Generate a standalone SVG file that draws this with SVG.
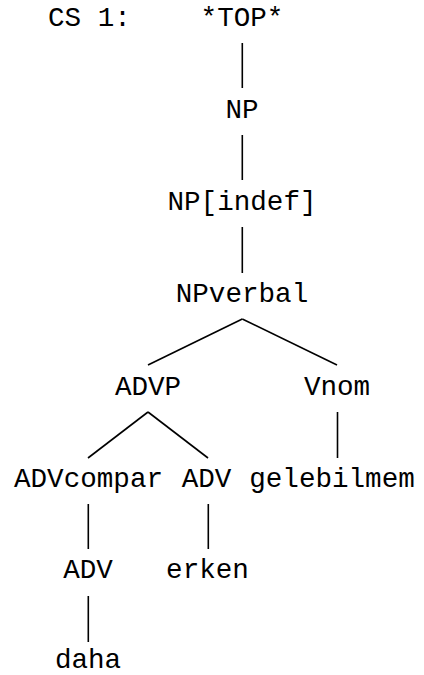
<svg xmlns="http://www.w3.org/2000/svg" width="424" height="675" viewBox="0 0 424 675">
<style>
text{font-family:"Liberation Mono","Courier New",monospace;font-size:27.6px;fill:#000;text-anchor:middle}
.e line{stroke:#000;stroke-width:1.6;stroke-linecap:butt}
</style>
<rect width="424" height="675" fill="#fff"/>
<g id="label"><text x="48" y="26" style="text-anchor:start">CS 1:</text></g>
<g id="n-top"><text x="242" y="26">*TOP*</text></g>
<g id="n-np"><text x="242" y="118">NP</text></g>
<g id="n-npindef"><text x="242" y="210">NP[indef]</text></g>
<g id="n-npverbal"><text x="242" y="302">NPverbal</text></g>
<g id="n-advp"><text x="148" y="395">ADVP</text></g>
<g id="n-vnom"><text x="337" y="395">Vnom</text></g>
<g id="n-advcompar"><text x="88.5" y="487">ADVcompar</text></g>
<g id="n-adv1"><text x="206.5" y="487">ADV</text></g>
<g id="n-gelebilmem"><text x="332" y="487">gelebilmem</text></g>
<g id="n-adv2"><text x="88" y="578">ADV</text></g>
<g id="n-erken"><text x="207.5" y="578">erken</text></g>
<g id="n-daha"><text x="88" y="668">daha</text></g>
<g id="edges" class="e">
<line x1="242.3" y1="43" x2="242.3" y2="88"/>
<line x1="242.3" y1="135" x2="242.3" y2="180"/>
<line x1="242.3" y1="227" x2="242.3" y2="273"/>
<line x1="242.3" y1="319" x2="148" y2="365"/>
<line x1="242.3" y1="319" x2="337" y2="365"/>
<line x1="148" y1="412" x2="88" y2="458"/>
<line x1="148" y1="412" x2="208" y2="458"/>
<line x1="337.5" y1="412" x2="337.5" y2="458"/>
<line x1="88.3" y1="504" x2="88.3" y2="549"/>
<line x1="208.3" y1="504" x2="208.3" y2="549"/>
<line x1="88.3" y1="596" x2="88.3" y2="642"/>
</g>
</svg>
